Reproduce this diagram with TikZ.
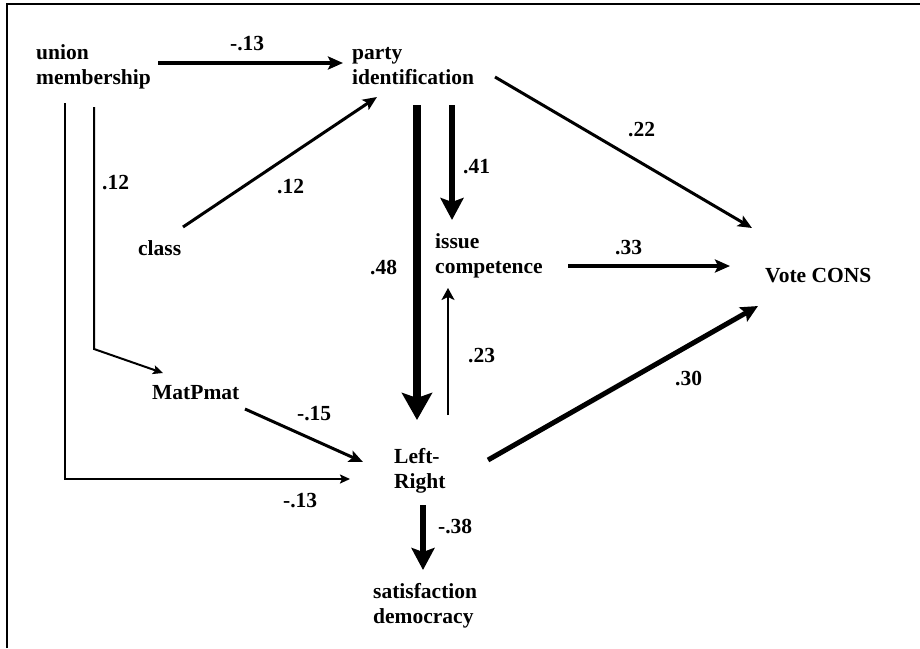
\documentclass[tikz,border=0pt]{standalone}
\usepackage{fontspec}
\newfontfamily\scanfont{Liberation Serif}
\newcommand\myvarfont{\scanfont\bfseries\fontsize{21.5}{25}\selectfont}
\usetikzlibrary{arrows.meta,calc}
\begin{document}
\begin{tikzpicture}[x=1pt,y=-1pt,
  var/.style={anchor=base west,inner sep=0pt,align=left,font=\myvarfont},
  coef/.style={anchor=base west,inner sep=0pt,font=\myvarfont},
  thin/.style={line width=2pt,-{Stealth[length=10pt,width=9pt,inset=2pt]}},
  mid/.style={line width=3pt,-{Stealth[length=14pt,width=12pt,inset=3pt]}},
  midb/.style={line width=4pt,-{Stealth[length=15pt,width=13pt,inset=3pt]}},
  heavy/.style={line width=5.5pt,-{Stealth[length=22pt,width=23pt,inset=4pt]}},
  vheavy/.style={line width=8pt,-{Stealth[length=27pt,width=30pt,inset=5pt]}},
  frame/.style={line width=2.5pt}]
\useasboundingbox (0,0) rectangle (920,648);
\draw[frame] (7,648) -- (7,4) -- (920,4);

% variables (multi-line nodes: base = last line)
\node[var] (union) at (36,84) {union\\membership};
\node[var] (party) at (352,84) {party\\identification};
\node[var] (class) at (138,255) {class};
\node[var] (issue) at (435,273) {issue\\competence};
\node[var] (vote) at (765,282) {Vote CONS};
\node[var] (matp) at (152,399) {MatPmat};
\node[var] (lr) at (394,488) {Left-\\Right};
\node[var] (sat) at (373,623) {satisfaction\\democracy};

% coefficients
\node[coef] (c1) at (230,50) {-.13};
\node[coef] (c2) at (102,189) {.12};
\node[coef] (c3) at (277,193) {.12};
\node[coef] (c4) at (628,136) {.22};
\node[coef] (c5) at (463,173) {.41};
\node[coef] (c6) at (615,254) {.33};
\node[coef] (c7) at (370,274) {.48};
\node[coef] (c8) at (468,362) {.23};
\node[coef] (c9) at (297,420) {-.15};
\node[coef] (c10) at (283,507) {-.13};
\node[coef] (c11) at (438,533) {-.38};
\node[coef] (c12) at (675,385) {.30};

% connectors
\draw[midb] ($(union.base west)+(122,-21)$) -- ($(party.base west)+(-9,-21)$);
\draw[mid] ($(class.base west)+(45,-28)$) -- ($(party.base west)+(25,13)$);
\draw[thin] ($(union.base west)+(58,23)$) -- ($(union.base west)+(58,265)$) -- ($(matp.base west)+(11,-26)$);
\draw[thin] ($(union.base west)+(29,19)$) |- ($(lr.base west)+(-44,-9)$);
\draw[vheavy] ($(party.base west)+(65,21)$) -- ($(lr.base west)+(23,-68)$);
\draw[heavy] ($(party.base west)+(100,21)$) -- ($(issue.base west)+(17,-53)$);
\draw[line width=2pt,-{Stealth[length=12pt,width=13pt,inset=3pt]}] ($(lr.base west)+(54,-73)$) -- ($(issue.base west)+(13,15)$);
\draw[mid] ($(party.base west)+(143,-7)$) -- ($(vote.base west)+(-13,-54)$);
\draw[midb] ($(issue.base west)+(133,-7)$) -- ($(vote.base west)+(-35,-16)$);
\draw[line width=5pt,-{Stealth[length=17pt,width=16pt,inset=3pt]}] ($(lr.base west)+(94,-28)$) -- ($(vote.base west)+(-7,24)$);
\draw[mid] ($(matp.base west)+(93,10)$) -- ($(lr.base west)+(-31,-26)$);
\draw[heavy] ($(lr.base west)+(29,17)$) -- ($(sat.base west)+(50,-53)$);
\end{tikzpicture}
\end{document}
